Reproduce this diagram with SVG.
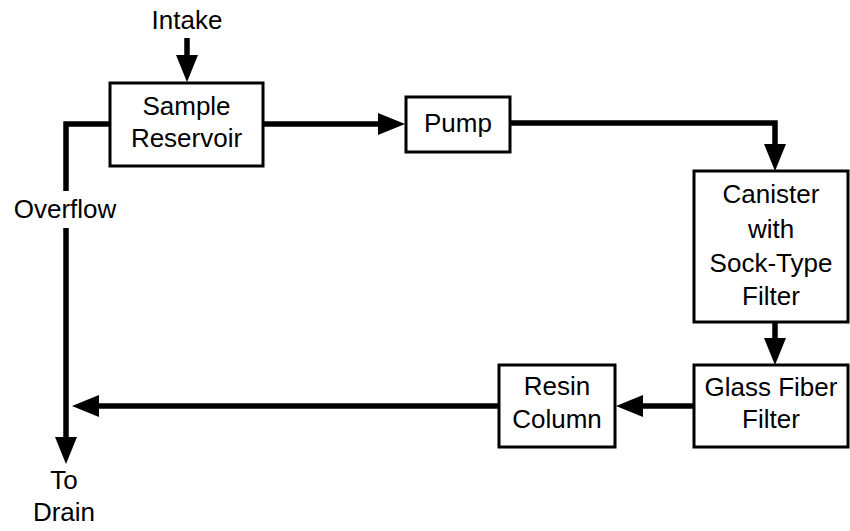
<svg xmlns="http://www.w3.org/2000/svg" width="850" height="531" viewBox="0 0 850 531">
  <style>
    .box { fill: #ffffff; stroke: #000000; stroke-width: 3; }
    .flow { fill: none; stroke: #000000; stroke-width: 5.5; stroke-linejoin: miter; }
    .lbl { font-family: "Liberation Sans", Arial, Helvetica, sans-serif; font-size: 26px; fill: #000000; text-anchor: middle; }
  </style>
  <defs>
    <marker id="head" markerUnits="userSpaceOnUse" markerWidth="28" markerHeight="24" refX="0" refY="12" orient="auto" overflow="visible">
      <path d="M0,1 L27,12 L0,23 Z" fill="#000000"/>
    </marker>
  </defs>

  <!-- flow connectors -->
  <g id="connectors">
    <path class="flow" d="M187,38 V55" marker-end="url(#head)"/>
    <path class="flow" d="M263,124 H378" marker-end="url(#head)"/>
    <path class="flow" d="M510,123 H775 V144" marker-end="url(#head)"/>
    <path class="flow" d="M775,322 V338" marker-end="url(#head)"/>
    <path class="flow" d="M694,406 H643" marker-end="url(#head)"/>
    <path class="flow" d="M499,406 H99" marker-end="url(#head)"/>
    <path class="flow" d="M110,124 H66 V191"/>
    <path class="flow" d="M66,228 V437" marker-end="url(#head)"/>
  </g>

  <!-- free labels -->
  <g id="labels">
    <text class="lbl" x="187" y="29">Intake</text>
    <text class="lbl" x="65" y="218">Overflow</text>
    <text class="lbl" x="64" y="489">To</text>
    <text class="lbl" x="64" y="521">Drain</text>
  </g>

  <g id="sample-reservoir">
    <rect class="box" x="110" y="83" width="153" height="83"/>
    <text class="lbl" x="186.5" y="115">Sample</text>
    <text class="lbl" x="186.5" y="147">Reservoir</text>
  </g>

  <g id="pump">
    <rect class="box" x="406" y="97" width="104" height="55"/>
    <text class="lbl" x="458" y="132">Pump</text>
  </g>

  <g id="canister">
    <rect class="box" x="694" y="171" width="154" height="151"/>
    <text class="lbl" x="771" y="203">Canister</text>
    <text class="lbl" x="771" y="238">with</text>
    <text class="lbl" x="771" y="272">Sock-Type</text>
    <text class="lbl" x="771" y="305">Filter</text>
  </g>

  <g id="glass-fiber-filter">
    <rect class="box" x="694" y="365" width="154" height="82"/>
    <text class="lbl" x="771" y="396">Glass Fiber</text>
    <text class="lbl" x="771" y="428">Filter</text>
  </g>

  <g id="resin-column">
    <rect class="box" x="499" y="365" width="116" height="82"/>
    <text class="lbl" x="557" y="395">Resin</text>
    <text class="lbl" x="557" y="428">Column</text>
  </g>
</svg>
